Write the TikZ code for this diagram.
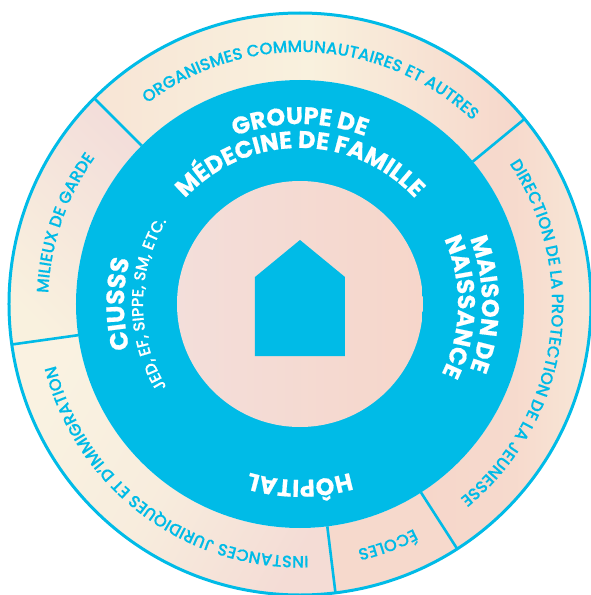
\documentclass[tikz,border=0pt]{standalone}
\usepackage{fontspec}
\usetikzlibrary{decorations.text}
\newfontfamily\ringfont{Poppins}[UprightFont=* Medium,FakeBold=0.3]
\newfontfamily\boldfont{Poppins}[UprightFont=* Bold,FakeBold=0.6]
\definecolor{brand}{HTML}{00BBE7}
\definecolor{cream}{HTML}{F9F1DE}
\definecolor{peach}{HTML}{F6D6CA}
\definecolor{rosy}{HTML}{F3DEDA}
\tikzset{
  x=1pt,y=1pt,
  divider/.style={draw=brand,line width=2.6pt},
  rimline/.style={draw=brand,line width=3pt},
}
% \arctext{radius}{centre angle}{half span}{font}{colour}{text} : clockwise text, tops outward
\newcommand{\arctext}[6]{%
  \path[decorate,decoration={text along path,text align=center,
     text color=#5,text={|#4|#6}}]
     ({#2+#3}:#1) arc[start angle={#2+#3},end angle={#2-#3},radius=#1];}
% \sector{start}{end}
\newcommand{\sector}[2]{(#1:224) arc[start angle=#1,end angle=#2,radius=224] -- (#2:291) arc[start angle=#2,end angle=#1,radius=291] -- cycle}
\begin{document}
\begin{tikzpicture}
\useasboundingbox (-300,-291) rectangle (291,304);
% ring sectors
\shade[left color=peach!45!cream,right color=peach,middle color=cream] \sector{39.5}{135};
\shade[top color=cream,bottom color=rosy,shading angle=135] \sector{135}{188};
\shade[top color=cream!90!white,bottom color=rosy!70!peach,middle color=cream!75!rosy,shading angle=60] \sector{188}{277};
\fill[peach!90!cream] \sector{277}{302.7};
\shade[left color=peach,right color=cream!75!peach,middle color=peach!85!cream] \sector{-57.3}{39.5};
% rim
\draw[rimline] (0,0) circle[radius=291];
% dividers
\draw[divider] (135:224) -- (135:291);
\draw[divider] (39.5:224) -- (39.5:291);
\draw[divider] (-57.3:224) -- (-57.3:291);
\draw[divider] (-83:224) -- (-83:291);
\draw[divider] (188:224) -- (188:291);
% blue disc and centre disc
\fill[brand] (0,0) circle[radius=224];
\shade[left color=rosy,right color=peach] (0,0) circle[radius=123];
% house
\fill[brand] (-45,27) -- (0,64) -- (45,27) -- (45,-52) -- (-45,-52) -- cycle;
% ring labels
\arctext{252}{87}{50}{\fontsize{16.5}{16.5}\ringfont}{brand}{ORGANISMES COMMUNAUTAIRES ET AUTRES}
\arctext{252}{161}{26}{\fontsize{16.5}{16.5}\ringfont}{brand}{MILIEUX DE GARDE}
\arctext{252}{-8.4}{60}{\fontsize{16.5}{16.5}\ringfont}{brand}{DIRECTION DE LA PROTECTION DE LA JEUNESSE}
\arctext{252}{233}{60}{\fontsize{16.5}{16.5}\ringfont}{brand}{INSTANCES JURIDIQUES ET D’IMMIGRATION}
\arctext{252}{-70}{12}{\fontsize{16.5}{16.5}\ringfont}{brand}{ÉCOLES}
% inner labels
\arctext{180}{90}{40}{\fontsize{24}{24}\boldfont}{white}{GROUPE DE}
\arctext{156}{90}{70}{\fontsize{24}{24}\boldfont}{white}{MÉDECINE DE FAMILLE}
\arctext{182}{0}{40}{\fontsize{24}{24}\boldfont}{white}{MAISON DE}
\arctext{158}{-1}{40}{\fontsize{24}{24}\boldfont}{white}{NAISSANCE}
\arctext{176}{-90}{30}{\fontsize{24}{24}\boldfont}{white}{HÔPITAL}
\arctext{176}{180}{30}{\fontsize{25}{25}\boldfont}{white}{CIUSSS}
\arctext{157}{180}{40}{\fontsize{16}{16}\ringfont}{white}{JED, EF, SIPPE, SM, ETC.}
\end{tikzpicture}
\end{document}
